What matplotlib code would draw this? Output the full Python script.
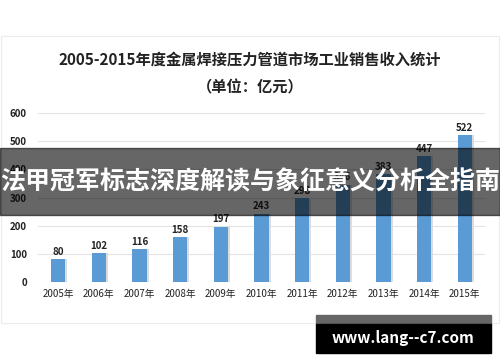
import matplotlib
matplotlib.use("Agg")
import matplotlib.pyplot as plt
from matplotlib.patches import Rectangle

plt.rcParams["font.family"] = ["Noto Sans CJK SC", "DejaVu Sans"]

years = ["2005年", "2006年", "2007年", "2008年", "2009年", "2010年",
         "2011年", "2012年", "2013年", "2014年", "2015年"]
revenue = [80, 102, 116, 158, 197, 243, 298, 346, 383, 447, 522]
yticks = [0, 100, 200, 300, 400, 500, 600]

title = "2005-2015年度金属焊接压力管道市场工业销售收入统计"
subtitle = "（单位：亿元）"
banner = "法甲冠军标志深度解读与象征意义分析全指南"
watermark = "www.lang--c7.com"

W, H = 500, 362
fig = plt.figure(figsize=(5, 3.62), dpi=100)


def fx(px):
    return px / W


def fy(py):
    return 1 - py / H


# faint frame of the chart image
fig.patches.append(Rectangle((fx(1), fy(323)), fx(498), fy(36) - fy(323),
                             transform=fig.transFigure, fill=False,
                             edgecolor="#ececec", linewidth=0.8))

ax = fig.add_axes([fx(38), fy(282), fx(485) - fx(38), fy(113) - fy(282)])
x = range(len(years))
# light shadow then bars
ax.bar([i + 0.05 for i in x], revenue, width=0.35, color="#dcdcdc", zorder=2)
bars = ax.bar(x, revenue, width=0.35, color="#5b9bd5", zorder=3)
for b, v in zip(bars, revenue):
    ax.text(b.get_x() + b.get_width() / 2, v + 8, str(v), ha="center",
            va="bottom", fontsize=7, fontweight="bold", color="#222222")

ax.set_ylim(0, 600)
ax.set_yticks(yticks)
ax.set_xlim(-0.5, len(years) - 0.5)
ax.set_xticks(list(x))
ax.set_xticklabels(years, fontsize=7, color="#222222")
ax.tick_params(axis="y", labelsize=7, length=0, pad=8, labelcolor="#222222")
ax.tick_params(axis="x", length=0, pad=5)
for lab in ax.get_yticklabels():
    lab.set_fontweight("bold")
ax.grid(axis="y", color="#e3e3e3", linewidth=0.8, zorder=0)
ax.set_axisbelow(True)
for s in ax.spines.values():
    s.set_visible(False)

fig.text(0.5, fy(60), title, ha="center", va="center", fontsize=11,
         fontweight="bold", color="#222222")
fig.text(0.5, fy(87), subtitle, ha="center", va="center", fontsize=11,
         fontweight="bold", color="#222222")

# overlay banner
fig.patches.append(Rectangle((0, fy(215)), 1, fy(148) - fy(215),
                             transform=fig.transFigure, color="black",
                             alpha=0.6, zorder=10))
fig.text(0.5, fy(182), banner, ha="center", va="center", fontsize=18,
         fontweight="bold", color="white", zorder=11)

# watermark box
fig.patches.append(Rectangle((fx(316), fy(324)), fx(175), fy(315) - fy(324),
                             transform=fig.transFigure, color="#666666", zorder=10))
fig.patches.append(Rectangle((fx(316), fy(353)), fx(175), fy(324) - fy(353),
                             transform=fig.transFigure, color="black", zorder=10))
fig.text(fx(403), fy(338), watermark, ha="center", va="center", fontsize=11,
         fontweight="bold", color="white", zorder=11)

fig.savefig("out.png", dpi=100)
